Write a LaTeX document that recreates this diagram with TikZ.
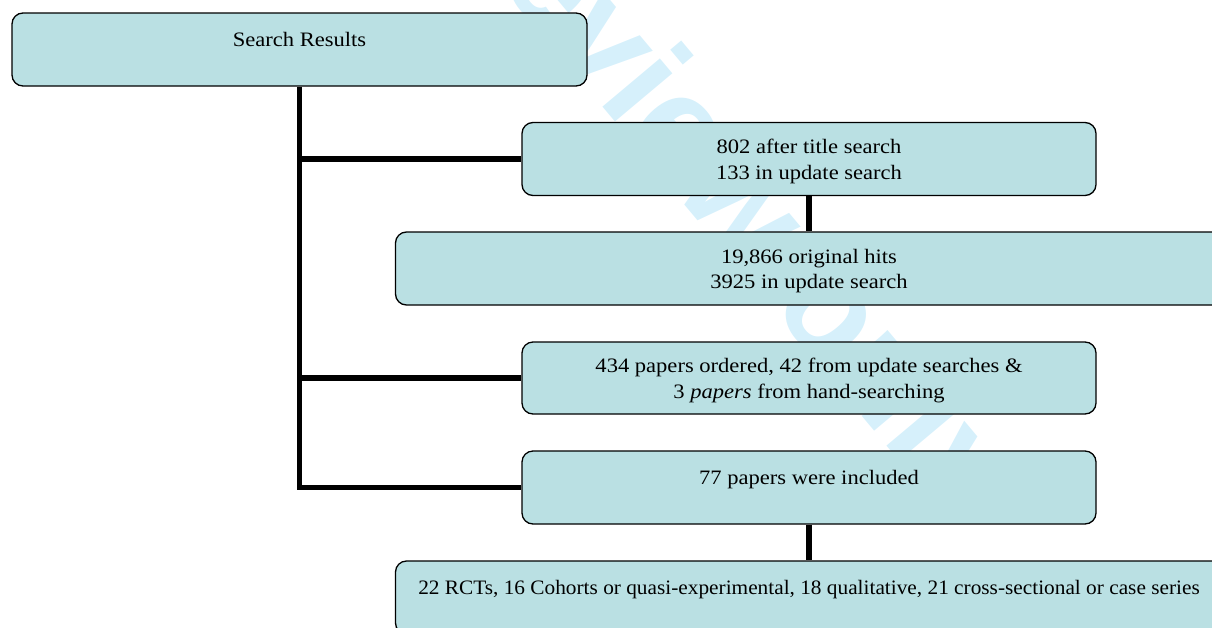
\documentclass[tikz,border=0pt]{standalone}
\usepackage{graphicx}
\usepackage{fontspec}
\setmainfont[FakeStretch=1.1]{Liberation Serif}
\newfontfamily\wmfont{Liberation Sans}
\definecolor{boxfill}{RGB}{186,224,227}
\definecolor{wmcolor}{RGB}{214,240,251}
\begin{document}
\begin{tikzpicture}[x=1pt,y=-1pt,
  flowbox/.style={draw=black, line width=1.3pt, fill=boxfill, rounded corners=11pt,
    inner sep=0pt, minimum height=73pt},
  boxtext/.style={inner sep=0pt, align=center, yshift=-2.5pt,
    font=\fontsize{20.5}{25.5}\selectfont},
  link/.style={draw=black, line width=5.5pt, line join=miter}]
\useasboundingbox (0,0) rectangle (1212,627);
\clip (0,0) rectangle (1212,627);

% watermark behind everything
\node[wmcolor, font=\wmfont\bfseries\fontsize{142}{142}\selectfont,
  anchor=base, rotate=-50, inner sep=0pt] (wm) at (513,0) {For peer review only};

% boxes
\node[flowbox, minimum width=575pt] (res) at (299.5,49.5) {};
\node[flowbox, minimum width=574pt] (title) at (809,159) {};
\node[flowbox, minimum width=829pt] (hits) at (810,268.5) {};
\node[flowbox, minimum width=574pt, minimum height=72pt] (ordered) at (809,378) {};
\node[flowbox, minimum width=574pt] (incl) at (809,487.5) {};
\node[flowbox, minimum width=829pt] (types) at (810,597.5) {};

% box texts
\node[boxtext] (restext) at (res.center) {Search Results\\ \mbox{}};
\node[boxtext] (titletext) at (title.center) {802 after title search\\133 in update search};
\node[boxtext] (hitstext) at (809,268.5) {19,866 original hits\\3925 in update search};
\node[boxtext] (orderedtext) at (ordered.center) {434 papers ordered, 42 from update searches \&\\3 \textit{papers} from hand-searching};
\node[boxtext] (incltext) at (incl.center) {77 papers were included\\ \mbox{}};
\node[boxtext] (typestext) at (809,597.5) {\scalebox{0.945}[1]{22 RCTs, 16 Cohorts or quasi-experimental, 18 qualitative, 21 cross-sectional or case series}\\ \mbox{}};

% connectors
\draw[link] (res.south) |- (incl.west);
\draw[link] (res.south |- title.west) -- (title.west);
\draw[link] (res.south |- ordered.west) -- (ordered.west);
\draw[link] (title.south) -- (title.south |- hits.north);
\draw[link] (incl.south) -- (incl.south |- types.north);
\end{tikzpicture}
\end{document}
